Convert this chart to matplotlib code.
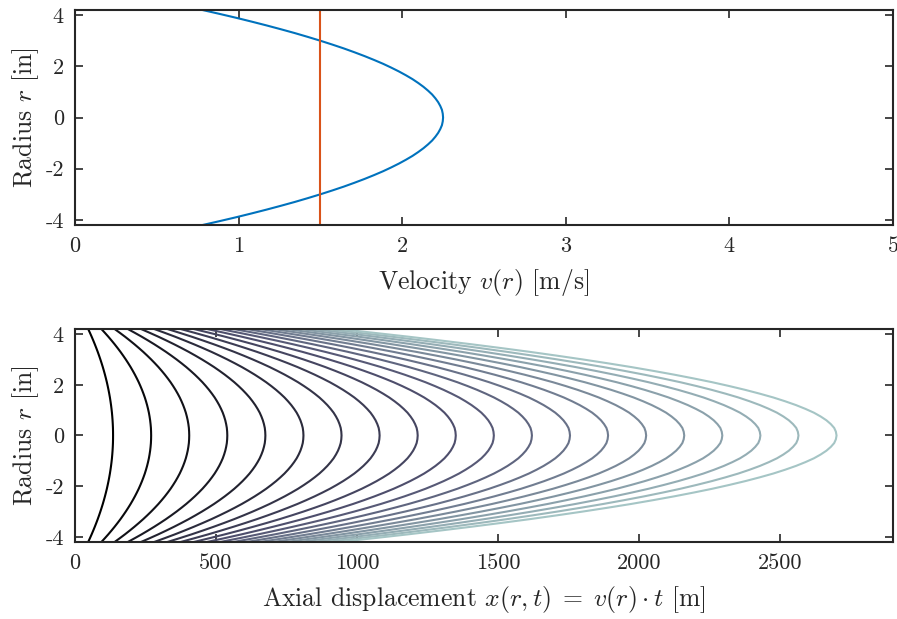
import numpy as np
import matplotlib
matplotlib.use("Agg")
import matplotlib.pyplot as plt

plt.rcParams["font.family"] = "cmr10"
plt.rcParams["mathtext.fontset"] = "cm"
plt.rcParams["axes.unicode_minus"] = False
plt.rcParams["axes.formatter.use_mathtext"] = False

# velocity profile, r >= 0 half (profile is symmetric)
radius_half = [0.0, 0.15, 0.3, 0.45, 0.6, 0.75, 0.9, 1.05, 1.2, 1.35, 1.5, 1.65, 1.8, 1.95,
               2.1, 2.25, 2.4, 2.55, 2.7, 2.85, 3.0, 3.15, 3.3, 3.45, 3.6, 3.75, 3.9, 4.05, 4.2]
velocity_half = [2.250, 2.248, 2.243, 2.233, 2.220, 2.203, 2.183, 2.158, 2.130, 2.098,
                 2.063, 2.023, 1.980, 1.933, 1.883, 1.828, 1.770, 1.708, 1.643, 1.573,
                 1.500, 1.423, 1.343, 1.258, 1.170, 1.078, 0.983, 0.883, 0.780]
mean_velocity = 1.5

# elapsed times [s] for the displacement curves
times = [60, 120, 180, 240, 300, 360, 420, 480, 540, 600,
         660, 720, 780, 840, 900, 960, 1020, 1080, 1140, 1200]

radius = np.concatenate([-np.array(radius_half[::-1]), radius_half[1:]])
velocity = np.concatenate([velocity_half[::-1], velocity_half[1:]])

dark = "#262626"

fig = plt.figure(figsize=(8.97, 6.19), dpi=100)
ax1 = fig.add_axes([0.0836, 0.6365, 0.9119, 0.3473])
ax2 = fig.add_axes([0.0836, 0.1244, 0.9119, 0.3441])

ax1.plot(velocity, radius, color="#0072BD", lw=1.5)
ax1.axvline(mean_velocity, color="#D95319", lw=1.5)
ax1.set_xlim(0, 5)
ax1.set_ylim(-4.2, 4.2)
ax1.set_xticks([0, 1, 2, 3, 4, 5])
ax1.set_xlabel(r"Velocity $v(r)$ [m/s]")

colors = plt.cm.bone(np.linspace(0, 0.74, len(times)))
for t, c in zip(times, colors):
    ax2.plot(velocity * t, radius, color=c, lw=1.5)
ax2.set_xlim(0, 2900)
ax2.set_ylim(-4.2, 4.2)
ax2.set_xticks([0, 500, 1000, 1500, 2000, 2500])
ax2.set_xlabel(r"Axial displacement $x(r,t)\;=\;v(r)\cdot t$ [m]")

for ax in (ax1, ax2):
    ax.set_yticks([-4, -2, 0, 2, 4])
    ax.set_ylabel(r"Radius $r$ [in]", fontsize=18.5, color=dark, labelpad=3)
    ax.xaxis.label.set_fontsize(18.5)
    ax.xaxis.label.set_color(dark)
    ax.xaxis.labelpad = 8
    ax.tick_params(direction="in", top=True, right=True, length=6, width=1.2,
                   labelsize=16, colors=dark, pad=8)
    for s in ax.spines.values():
        s.set_linewidth(1.5)
        s.set_color(dark)

fig.savefig("out.png", dpi=100)
